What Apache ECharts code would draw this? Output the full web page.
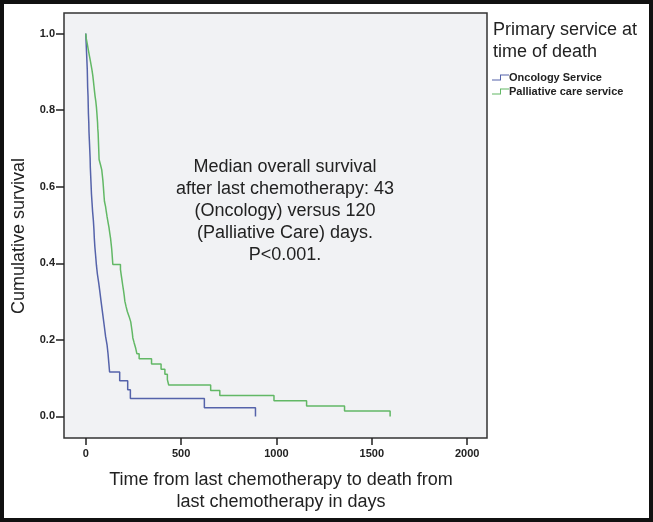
<!DOCTYPE html>
<html>
<head>
<meta charset="utf-8">
<script src="https://cdn.jsdelivr.net/npm/echarts@6/dist/echarts.min.js"></script>
<style>
html,body{margin:0;padding:0;background:#fff;}
#chart{width:653px;height:522px;}
</style>
</head>
<body>
<div id="chart"></div>
<script>
// ---- data ----
const xTicks = [0, 500, 1000, 1500, 2000];
const yTicks = [0.0, 0.2, 0.4, 0.6, 0.8, 1.0];

const seriesNames = ['Oncology Service', 'Palliative care service'];

const oncologyDays = [0,2,4,6,8,9,10,12,13,14,16,17,19,21,23,24,26,28,30,33,36,40,43,45,48,52,56,61,68,74,80,86,92,98,104,112,117,121,125,178,220,234,622,890];
const oncologySurv = [1.0,0.977,0.953,0.930,0.907,0.884,0.860,0.837,0.814,0.791,0.767,0.744,0.721,0.698,0.674,0.651,0.628,0.605,0.581,0.558,0.535,0.512,0.488,0.465,0.442,0.419,0.395,0.372,0.349,0.326,0.302,0.279,0.256,0.233,0.209,0.186,0.163,0.140,0.116,0.093,0.070,0.047,0.023,0.0];

const palliativeDays = [0,3,8,13,18,23,28,33,37,40,43,46,49,53,56,58,60,62,63,65,66,67,68,69,70,77,84,87,90,92,94,96,98,104,108,112,117,122,126,130,133,136,138,140,142,182,186,190,194,198,202,205,211,218,228,236,240,244,247,254,262,268,280,345,395,415,428,435,655,703,987,1158,1357,1596];
const palliativeSurv = [1.0,0.986,0.973,0.959,0.945,0.932,0.918,0.904,0.890,0.877,0.863,0.849,0.836,0.822,0.808,0.795,0.781,0.767,0.753,0.740,0.726,0.712,0.699,0.685,0.671,0.658,0.644,0.630,0.616,0.603,0.589,0.575,0.562,0.548,0.534,0.521,0.507,0.493,0.479,0.466,0.452,0.438,0.425,0.411,0.397,0.384,0.370,0.356,0.342,0.329,0.315,0.301,0.288,0.274,0.260,0.247,0.233,0.219,0.205,0.192,0.178,0.164,0.151,0.137,0.123,0.110,0.096,0.082,0.068,0.055,0.041,0.027,0.014,0.0];

const annotationLines = ['Median overall survival','after last chemotherapy: 43','(Oncology) versus 120','(Palliative Care) days.','P<0.001.'];
const xTitleLines = ['Time from last chemotherapy to death from','last chemotherapy in days'];
const yTitle = 'Cumulative survival';
const legendTitleLines = ['Primary service at','time of death'];

// ---- chart ----
const FONT = 'Liberation Sans, Arial, sans-serif';
const BLUE = '#5563aa';
const GREEN = '#62b865';
const zip = (a, b) => a.map((v, i) => [v, b[i]]);

const chart = echarts.init(document.getElementById('chart'), null, {renderer: 'canvas'});
const stepIcon = 'path://M0,5 L8,5 L8,0 L17,0 L17,1 L9,1 L9,6 L0,6 Z';

chart.setOption({
  backgroundColor: '#ffffff',
  animation: false,
  grid: {
    left: 64, top: 13, right: 166, bottom: 84,
    show: true, backgroundColor: '#f1f2f4', borderColor: '#333', borderWidth: 1.5
  },
  xAxis: {
    type: 'value', min: -114, max: 2104,
    axisLine: {show: false, onZero: false},
    splitLine: {show: false},
    axisTick: {show: true, length: 7, customValues: xTicks, lineStyle: {color: '#222', width: 1.5}},
    axisLabel: {customValues: xTicks, margin: 10, fontFamily: FONT, fontSize: 11, fontWeight: 'bold', color: '#222',
      formatter: v => String(v)}
  },
  yAxis: {
    type: 'value', min: -0.0563, max: 1.0537,
    axisLine: {show: false, onZero: false},
    splitLine: {show: false},
    axisTick: {show: true, length: 8, customValues: yTicks, lineStyle: {color: '#222', width: 1.5}},
    axisLabel: {customValues: yTicks, margin: 9, fontFamily: FONT, fontSize: 11, fontWeight: 'bold', color: '#222',
      formatter: v => v.toFixed(1)}
  },
  legend: {
    orient: 'vertical', left: 492, top: 71, padding: 0,
    itemWidth: 17, itemHeight: 6, itemGap: 1,
    icon: stepIcon,
    textStyle: {fontFamily: FONT, fontSize: 11, fontWeight: 'bold', color: '#222', lineHeight: 13, padding: [0,0,0,-5]},
    data: seriesNames
  },
  series: [
    {
      name: seriesNames[0], type: 'line', step: 'end', showSymbol: false,
      data: zip(oncologyDays, oncologySurv),
      lineStyle: {color: BLUE, width: 1.5}, itemStyle: {color: BLUE}
    },
    {
      name: seriesNames[1], type: 'line', step: 'end', showSymbol: false,
      data: zip(palliativeDays, palliativeSurv),
      lineStyle: {color: GREEN, width: 1.5}, itemStyle: {color: GREEN}
    }
  ],
  graphic: [
    {type: 'rect', shape: {x: 2, y: 2, width: 649, height: 518}, style: {fill: 'none', stroke: '#111', lineWidth: 4}, silent: true},
    {type: 'text', x: 285, y: 211, style: {text: annotationLines.join('\n'), fontFamily: FONT, fontSize: 18, lineHeight: 22, fill: '#222', align: 'center', verticalAlign: 'middle'}},
    {type: 'text', x: 281, y: 491, style: {text: xTitleLines.join('\n'), fontFamily: FONT, fontSize: 18, lineHeight: 22, fill: '#222', align: 'center', verticalAlign: 'middle'}},
    {type: 'text', x: 19, y: 236, rotation: Math.PI / 2, style: {text: yTitle, fontFamily: FONT, fontSize: 18, fill: '#222', align: 'center', verticalAlign: 'middle'}},
    {type: 'text', x: 493, y: 41, style: {text: legendTitleLines.join('\n'), fontFamily: FONT, fontSize: 18, lineHeight: 22, fill: '#222', align: 'left', verticalAlign: 'middle'}}
  ]
});
</script>
</body>
</html>
